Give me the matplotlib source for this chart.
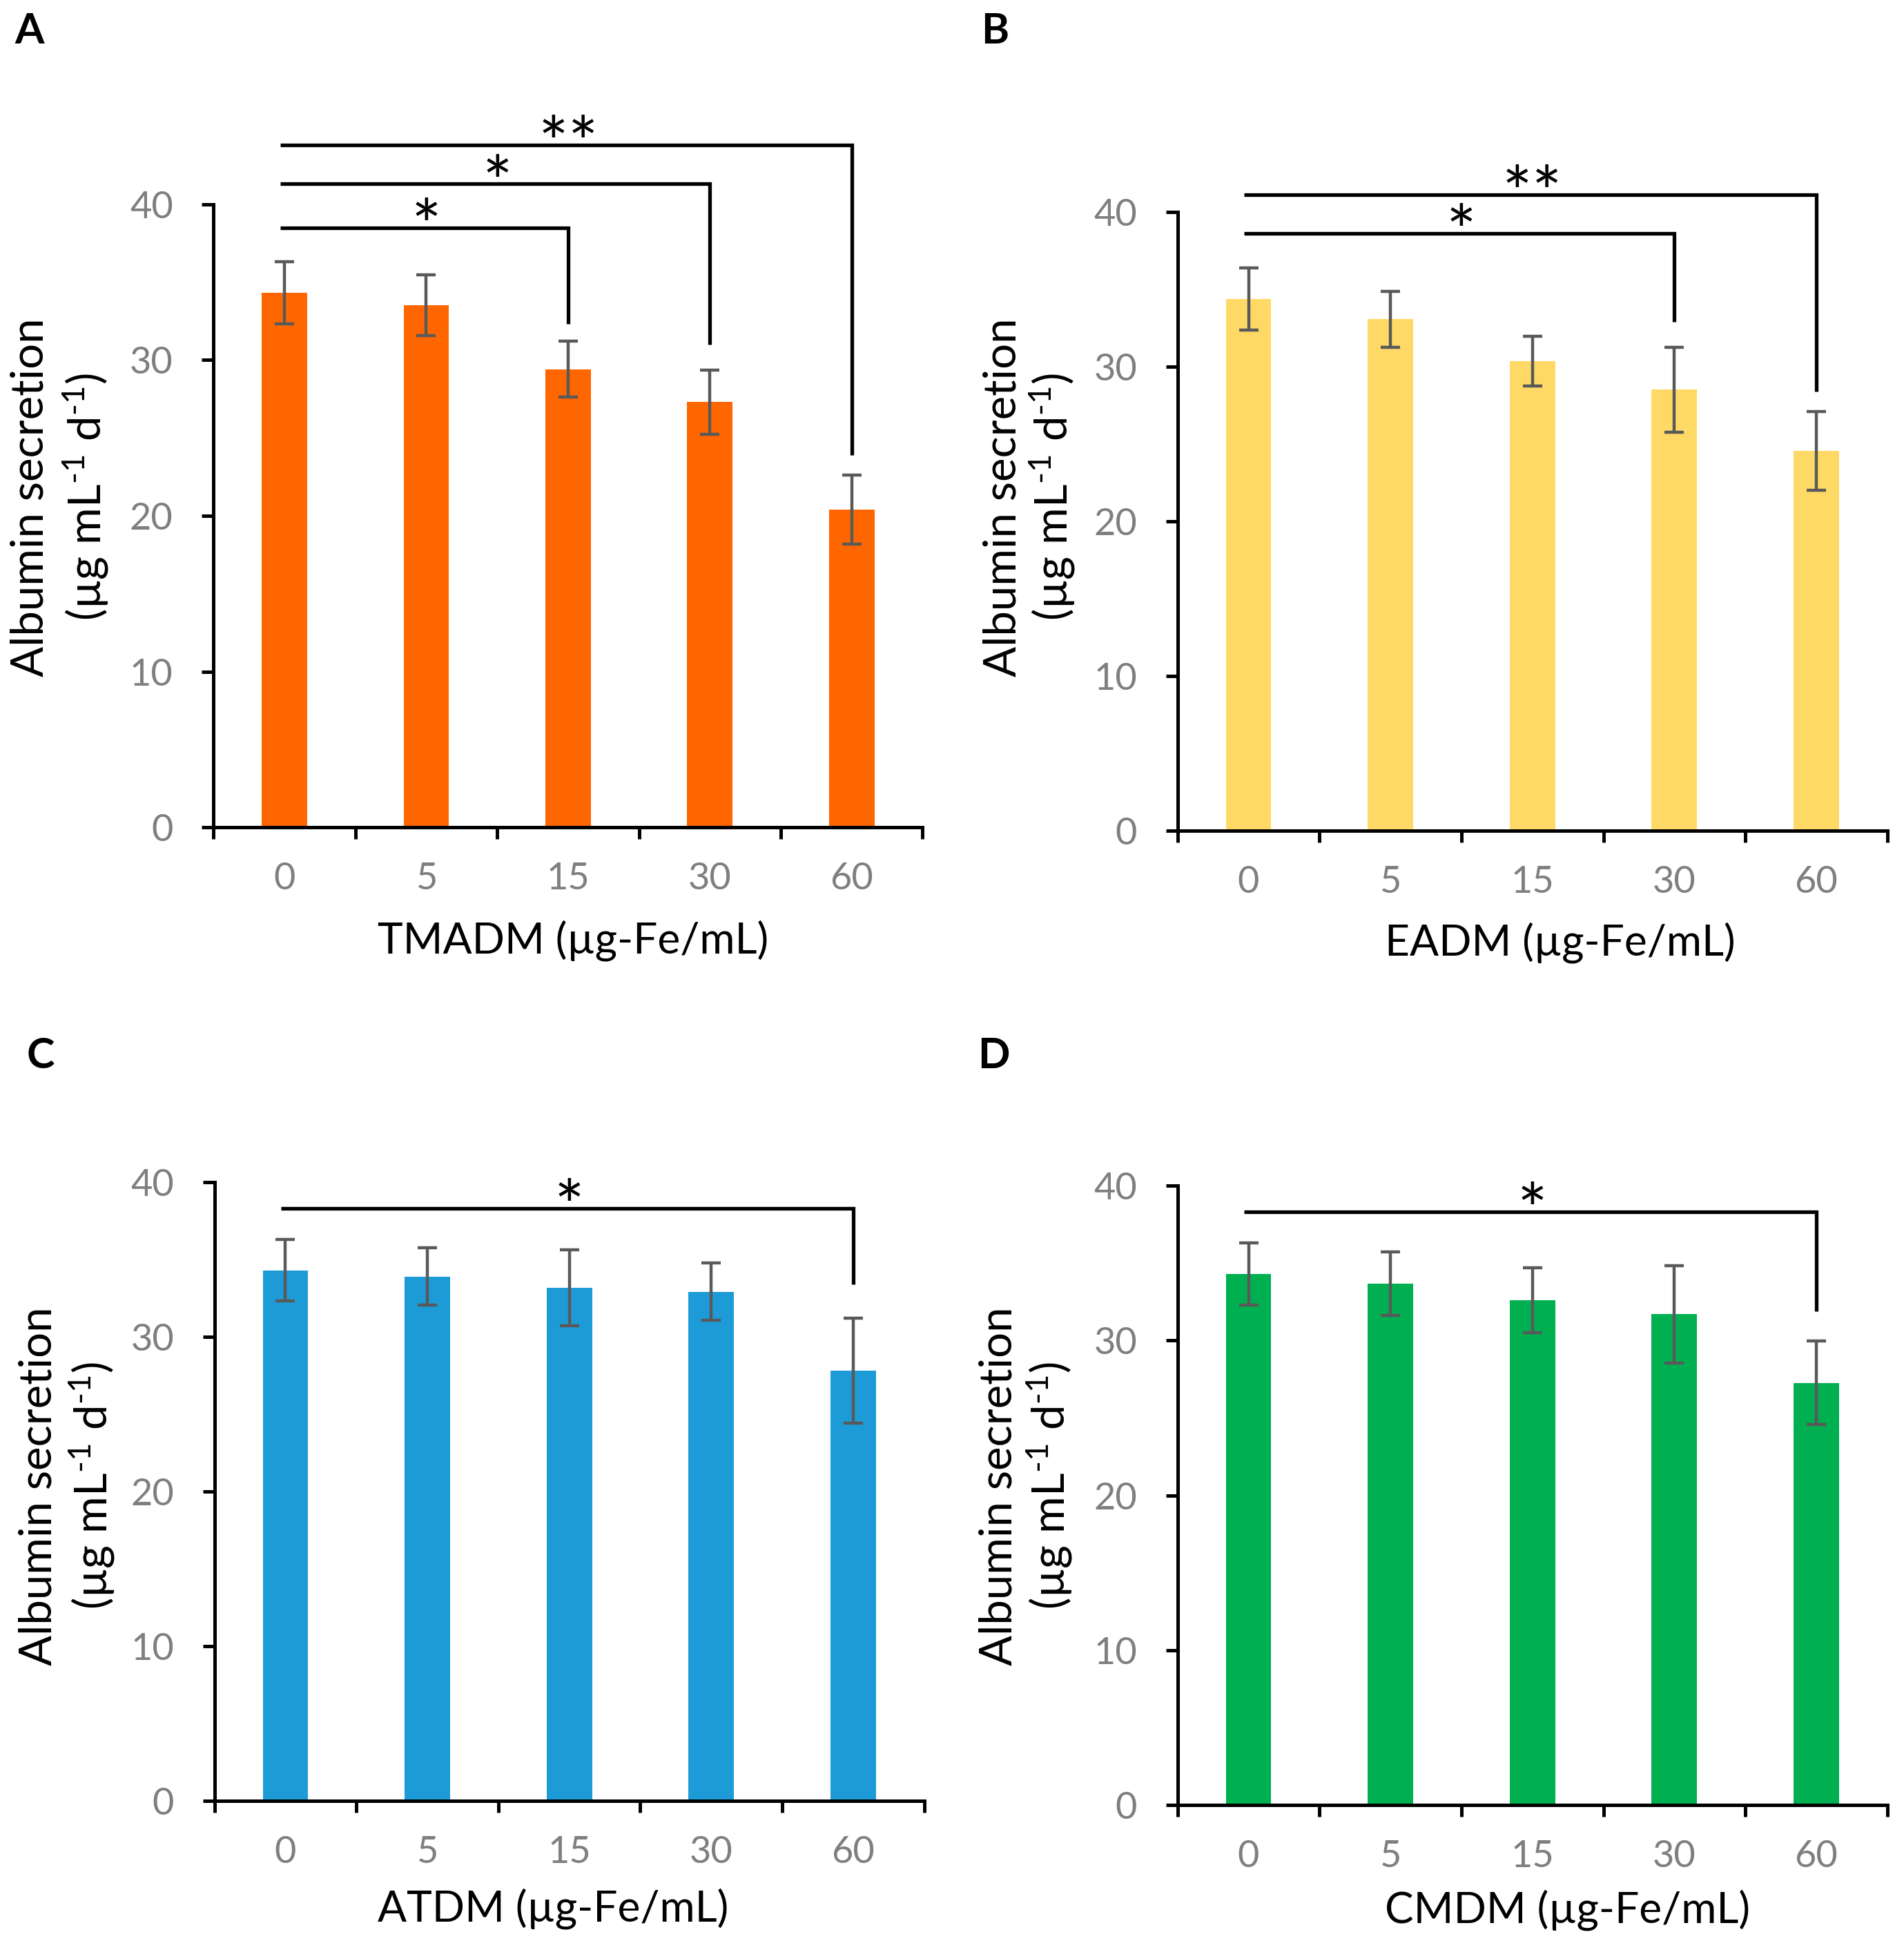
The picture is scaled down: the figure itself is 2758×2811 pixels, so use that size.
import numpy as np
import matplotlib
matplotlib.use("Agg")
import matplotlib.pyplot as plt

plt.rcParams['font.family'] = ['Lato', 'DejaVu Sans']
plt.rcParams['mathtext.fontset'] = 'custom'
plt.rcParams['mathtext.rm'] = 'Lato'
plt.rcParams['mathtext.it'] = 'Lato'
plt.rcParams['mathtext.default'] = 'regular'

# ---------------- data ----------------
categories = ['0', '5', '15', '30', '60']

tmadm_vals = [34.3, 33.5, 29.4, 27.3, 20.4]
tmadm_err = [2.0, 1.95, 1.8, 2.05, 2.2]
eadm_vals = [34.35, 33.05, 30.35, 28.5, 24.55]
eadm_err = [2.0, 1.8, 1.6, 2.75, 2.55]
atdm_vals = [34.3, 33.9, 33.15, 32.9, 27.8]
atdm_err = [2.0, 1.85, 2.45, 1.85, 3.4]
cmdm_vals = [34.3, 33.65, 32.6, 31.7, 27.25]
cmdm_err = [2.0, 2.05, 2.1, 3.15, 2.7]

# significance brackets: (from index, to index, line level, drop-to level, label)
tmadm_sig = [(0, 2, 38.5, 32.3, '*'), (0, 3, 41.3, 31.0, '*'), (0, 4, 43.8, 23.9, '**')]
eadm_sig = [(0, 3, 38.6, 32.9, '*'), (0, 4, 41.1, 28.4, '**')]
atdm_sig = [(0, 4, 38.3, 33.4, '*')]
cmdm_sig = [(0, 4, 38.3, 31.9, '*')]

xlabels = ['TMADM (µg-Fe/mL)', 'EADM (µg-Fe/mL)', 'ATDM (µg-Fe/mL)', 'CMDM (µg-Fe/mL)']
panel_letters = ['A', 'B', 'C', 'D']
colors = ['#FF6600', '#FFD966', '#1D9BD7', '#00B050']

# ---------------- layout ----------------
W, H = 2758, 2811
fig = plt.figure(figsize=(W / 200, H / 200), dpi=200)

axes_rects = [
    [0.11215, 0.57371, 0.37244, 0.32110],
    [0.61846, 0.57215, 0.37273, 0.31874],
    [0.11265, 0.07232, 0.37270, 0.31868],
    [0.61846, 0.07008, 0.37273, 0.31910],
]
letter_pos = [(21, 63), (1421, 63), (39, 1547), (1416, 1547)]
ylab1_pos = [(63, 720), (1471, 720), (75, 2152), (1466, 2152)]
ylab2_pos = [(146, 720), (1546, 720), (155, 2152), (1542, 2152)]
xlab_pos = [(547, 1380), (2006, 1384), (547, 2782), (2006, 2785)]

datasets = [
    (tmadm_vals, tmadm_err, tmadm_sig),
    (eadm_vals, eadm_err, eadm_sig),
    (atdm_vals, atdm_err, atdm_sig),
    (cmdm_vals, cmdm_err, cmdm_sig),
]

x = np.arange(len(categories))
for i, (vals, errs, sigs) in enumerate(datasets):
    ax = fig.add_axes(axes_rects[i])
    ax.bar(x, vals, width=0.32, color=colors[i], zorder=2)
    ax.errorbar(x, vals, yerr=errs, fmt='none', ecolor='#595959',
                elinewidth=1.6, capsize=5.2, capthick=1.6, zorder=3)
    ax.set_xlim(-0.5, 4.5)
    ax.set_ylim(0, 40)
    for s in ['top', 'right']:
        ax.spines[s].set_visible(False)
    for s in ['left', 'bottom']:
        ax.spines[s].set_linewidth(1.8)
        ax.spines[s].set_color('black')
    ax.set_xticks(np.arange(-0.5, 5, 1))
    ax.set_xticklabels([])
    ax.set_xticks(x, minor=True)
    ax.set_xticklabels(categories, minor=True)
    ax.tick_params(axis='x', which='major', direction='out', length=6.1, width=1.8, color='black')
    ax.tick_params(axis='x', which='minor', length=0, pad=18, labelsize=19.5, labelcolor='#7F7F7F')
    ax.set_yticks([0, 10, 20, 30, 40])
    ax.tick_params(axis='y', direction='out', length=6.1, width=1.8, color='black',
                   pad=15, labelsize=19.5, labelcolor='#7F7F7F')

    for (a, b, lvl, drop, lab) in sigs:
        ax.plot([a - 0.03, b, b], [lvl, lvl, drop], color='black', lw=1.9,
                clip_on=False, solid_capstyle='butt', solid_joinstyle='miter', zorder=4)
        ax.annotate(lab, xy=((a + b) / 2, lvl), xytext=(0, -12), textcoords='offset points',
                    ha='center', va='baseline', fontsize=37, color='black',
                    annotation_clip=False)

    lx, ly = letter_pos[i]
    fig.text(lx / W, 1 - ly / H, panel_letters[i], fontsize=22, fontweight='bold',
             ha='left', va='baseline')
    y1x, y1y = ylab1_pos[i]
    fig.text(y1x / W, 1 - y1y / H, 'Albumin secretion', rotation=90, rotation_mode='anchor',
             ha='center', va='baseline', fontsize=23.5)
    y2x, y2y = ylab2_pos[i]
    fig.text(y2x / W, 1 - y2y / H, r'(µg mL$^{\text{-}1}$ d$^{\text{-}1}$)', rotation=90,
             rotation_mode='anchor', ha='center', va='baseline', fontsize=23.5)
    xx, xy = xlab_pos[i]
    fig.text(xx / W, 1 - xy / H, xlabels[i], ha='left', va='baseline', fontsize=22.4)

fig.savefig('out.png', dpi=200, facecolor='white')
